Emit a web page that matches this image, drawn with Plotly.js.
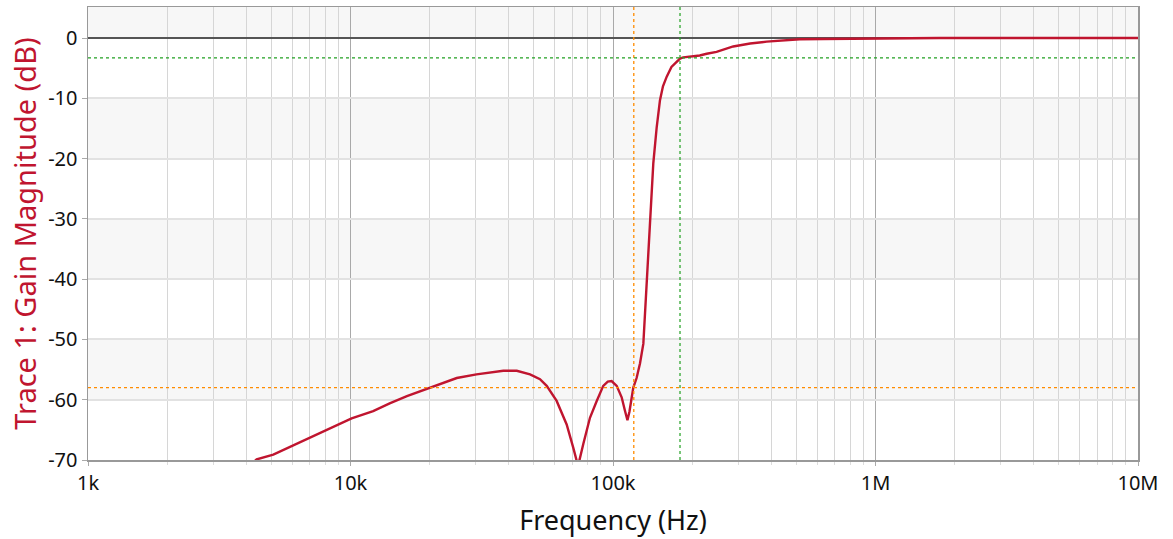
<!DOCTYPE html>
<html>
<head>
<meta charset="utf-8">
<script src="https://cdn.plot.ly/plotly-3.0.1.min.js"></script>
<style>html,body{margin:0;padding:0;background:#fff;}#chart{width:1173px;height:539px;}</style>
</head>
<body>
<div id="chart"></div>
<script>
// Frequency (Hz) and gain (dB)
const freqHz = [4200, 4390, 5080, 5880, 6810, 7880, 9120, 10100, 12200, 14100, 16400, 20100, 25400, 30200, 38200, 43000, 48300, 52700, 55900, 61000, 66600, 70600, 73600, 77100, 81700, 86700, 91800, 95500, 98800, 103300, 107900, 111000, 113500, 115500, 117800, 119500, 123000, 126700, 130500, 134400, 138400, 142400, 146700, 151000, 155000, 160200, 167000, 174800, 180000, 185200, 200000, 214000, 227500, 248000, 287000, 333000, 385000, 445000, 515000, 631000, 1000000, 1700000, 1750000, 10000000];
const gainDb = [-70.6, -69.9, -69.1, -67.8, -66.6, -65.2, -64.0, -63.1, -61.9, -60.6, -59.4, -58.0, -56.4, -55.8, -55.2, -55.2, -55.8, -56.6, -57.7, -60.2, -64.1, -68.0, -71.0, -67.3, -63.0, -60.2, -57.7, -57.0, -56.9, -57.7, -59.6, -61.8, -63.4, -62.0, -59.6, -58.0, -56.4, -54.0, -50.7, -40.2, -30.8, -20.8, -14.8, -10.3, -8.0, -6.4, -4.8, -4.0, -3.4, -3.2, -3.1, -2.9, -2.6, -2.3, -1.4, -0.9, -0.6, -0.35, -0.2, -0.15, -0.1, -0.05, 0.0, 0.0];

// Axis ticks
const xTickVals = [1e3, 1e4, 1e5, 1e6, 1e7];
const xTickText = ["1k", "10k", "100k", "1M", "10M"];
const yTickVals = [0, -10, -20, -30, -40, -50, -60, -70];
const yTickText = ["0", "-10", "-20", "-30", "-40", "-50", "-60", "-70"];

// Cursor markers
const cursorA = {freq: 120000, gain: -58};   // orange
const cursorB = {freq: 180000, gain: -3.3};  // green

// Shaded horizontal bands (dB ranges)
const bandRanges = [[0, 5.2], [-20, -10], [-40, -30], [-60, -50]];

const minorVals = [];
for (let d = 1e3; d < 1e7; d *= 10) {
  for (let m = 2; m <= 9; m++) minorVals.push(d * m);
}

const FONT = "Noto Sans, Open Sans, sans-serif";
const RED = "#c0152f";

const shapes = [];
bandRanges.forEach(r => shapes.push({
  type: "rect", xref: "paper", yref: "y", x0: 0, x1: 1, y0: r[0], y1: r[1],
  fillcolor: "#f7f7f7", line: {width: 0}, layer: "below"
}));
shapes.push({type: "line", xref: "x", yref: "paper", x0: cursorA.freq, x1: cursorA.freq, y0: 0, y1: 1,
  line: {color: "#ff8c00", width: 1.3, dash: "dot"}, layer: "above"});
shapes.push({type: "line", xref: "paper", yref: "y", x0: 0, x1: 1, y0: cursorA.gain, y1: cursorA.gain,
  line: {color: "#ff8c00", width: 1.3, dash: "dot"}, layer: "above"});
shapes.push({type: "line", xref: "x", yref: "paper", x0: cursorB.freq, x1: cursorB.freq, y0: 0, y1: 1,
  line: {color: "#22a022", width: 1.2, dash: "dot"}, layer: "above"});
shapes.push({type: "line", xref: "paper", yref: "y", x0: 0, x1: 1, y0: cursorB.gain, y1: cursorB.gain,
  line: {color: "#22a022", width: 1.2, dash: "dot"}, layer: "above"});

const trace = {
  x: freqHz, y: gainDb, type: "scatter", mode: "lines",
  line: {color: RED, width: 2.4}, hoverinfo: "skip", cliponaxis: true
};

const layout = {
  width: 1173, height: 539,
  margin: {l: 88, r: 35, t: 7, b: 79},
  paper_bgcolor: "#ffffff", plot_bgcolor: "#ffffff",
  showlegend: false,
  font: {family: FONT, size: 20, color: "#111"},
  xaxis: {
    type: "log", range: [3, 7],
    tickmode: "array", tickvals: xTickVals, ticktext: xTickText,
    showgrid: true, gridcolor: "#a9a9a9", gridwidth: 1,
    ticks: "outside", ticklen: 4, tickcolor: "#aaaaaa",
    showline: true, linecolor: "#999999", linewidth: 1.5, mirror: true,
    zeroline: false,
    tickfont: {family: FONT, size: 20, color: "#111"},
    minor: {tickmode: "array", tickvals: minorVals, showgrid: true, gridcolor: "#d6d6d6", gridwidth: 1,
            ticks: "outside", ticklen: 3, tickcolor: "#dddddd"},
    title: {text: "Frequency (Hz)", font: {family: FONT, size: 27, color: "#111"}, standoff: 16}
  },
  yaxis: {
    range: [-70, 5.15],
    tickmode: "array", tickvals: yTickVals, ticktext: yTickText,
    showgrid: true, gridcolor: "#e2e2e2", gridwidth: 2,
    ticks: "outside", ticklen: 5, tickcolor: "#aaaaaa",
    showline: true, linecolor: "#999999", linewidth: 1.5, mirror: true,
    zeroline: true, zerolinecolor: "#555555", zerolinewidth: 1.5,
    tickfont: {family: FONT, size: 20, color: "#111"},
    title: {text: "Trace 1: Gain Magnitude (dB)", font: {family: FONT, size: 29, color: RED}, standoff: 3}
  },
  shapes: shapes
};

Plotly.newPlot("chart", [trace], layout, {displayModeBar: false, staticPlot: true});
</script>
</body>
</html>
